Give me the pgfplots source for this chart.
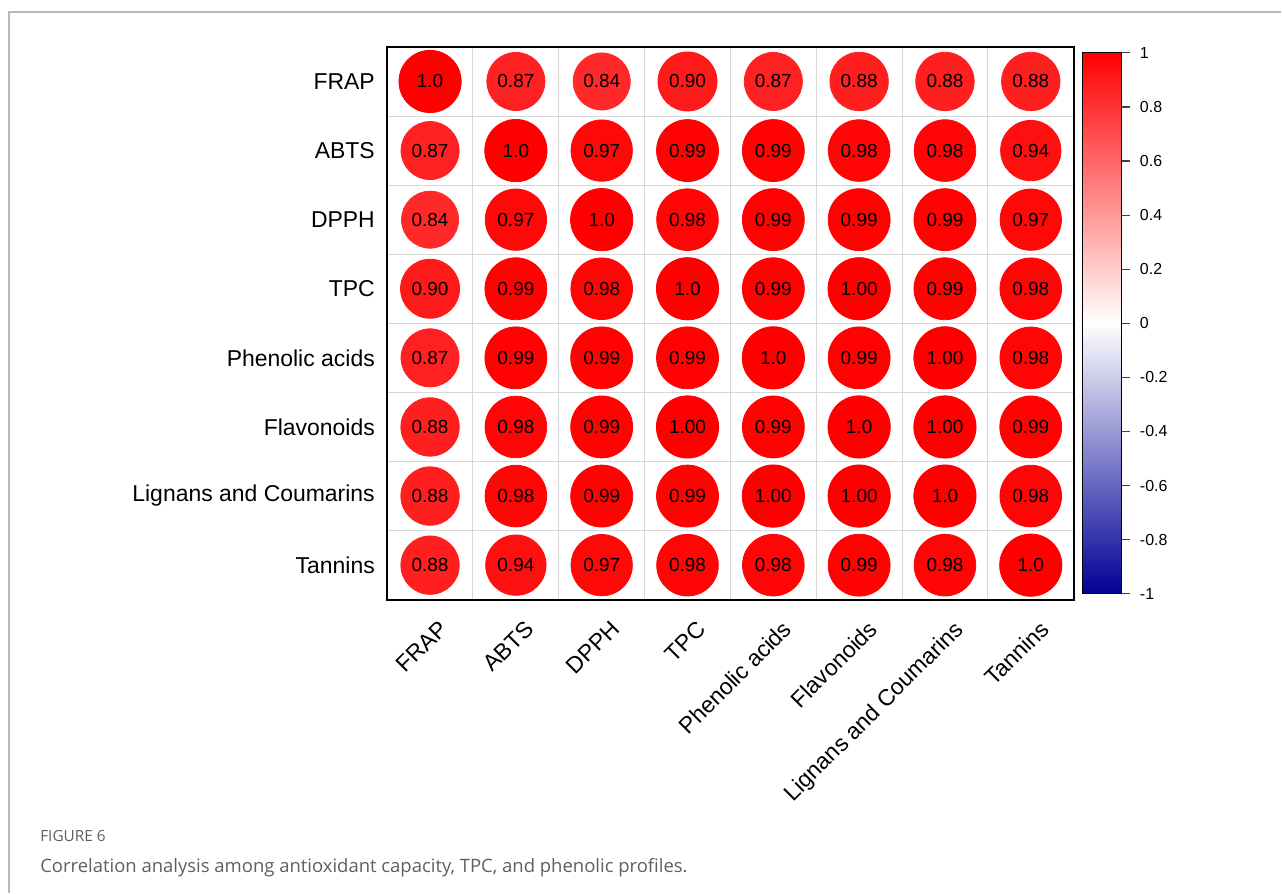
\documentclass[border=0pt]{standalone}
\usepackage{pgfplots}
\pgfplotsset{compat=1.18}
\usepackage{pgfplotstable}
\usepackage{fontspec}
\setmainfont{Liberation Sans}
\newfontfamily\capfont{Open Sans}
\definecolor{framegray}{RGB}{185,185,185}
\definecolor{gridgray}{RGB}{215,215,215}
\definecolor{captiongray}{RGB}{95,95,95}

% Pearson correlation matrix: column index x, row index y, coefficient r, printed label
\pgfplotstableread{
x y r lab
0 0 1.00 1.0
1 0 0.87 0.87
2 0 0.84 0.84
3 0 0.90 0.90
4 0 0.87 0.87
5 0 0.88 0.88
6 0 0.88 0.88
7 0 0.88 0.88
0 1 0.87 0.87
1 1 1.00 1.0
2 1 0.97 0.97
3 1 0.99 0.99
4 1 0.99 0.99
5 1 0.98 0.98
6 1 0.98 0.98
7 1 0.94 0.94
0 2 0.84 0.84
1 2 0.97 0.97
2 2 1.00 1.0
3 2 0.98 0.98
4 2 0.99 0.99
5 2 0.99 0.99
6 2 0.99 0.99
7 2 0.97 0.97
0 3 0.90 0.90
1 3 0.99 0.99
2 3 0.98 0.98
3 3 1.00 1.0
4 3 0.99 0.99
5 3 1.00 1.00
6 3 0.99 0.99
7 3 0.98 0.98
0 4 0.87 0.87
1 4 0.99 0.99
2 4 0.99 0.99
3 4 0.99 0.99
4 4 1.00 1.0
5 4 0.99 0.99
6 4 1.00 1.00
7 4 0.98 0.98
0 5 0.88 0.88
1 5 0.98 0.98
2 5 0.99 0.99
3 5 1.00 1.00
4 5 0.99 0.99
5 5 1.00 1.0
6 5 1.00 1.00
7 5 0.99 0.99
0 6 0.88 0.88
1 6 0.98 0.98
2 6 0.99 0.99
3 6 0.99 0.99
4 6 1.00 1.00
5 6 1.00 1.00
6 6 1.00 1.0
7 6 0.98 0.98
0 7 0.88 0.88
1 7 0.94 0.94
2 7 0.97 0.97
3 7 0.98 0.98
4 7 0.98 0.98
5 7 0.99 0.99
6 7 0.98 0.98
7 7 1.00 1.0
}\corrdata

\pgfplotsset{
  colormap={corr}{rgb255=(0,0,150) rgb255=(255,255,255) rgb255=(255,0,0)},
}

\begin{document}
\begin{tikzpicture}[x=1pt,y=1pt]
\path (0,0) rectangle (641,446.5);
\draw[framegray, line width=0.75pt] (4.5,-1) -- (4.5,440.5) -- (642,440.5);
\begin{axis}[
  at={(194pt,146pt)}, anchor=south west,
  width=344pt, height=277pt, scale only axis,
  xmin=-0.5, xmax=7.5, ymin=-0.5, ymax=7.5,
  y dir=reverse,
  xtick={0,1,2,3,4,5,6,7}, ytick={0,1,2,3,4,5,6,7},
  xticklabels={FRAP,ABTS,DPPH,TPC,Phenolic acids,Flavonoids,Lignans and Coumarins,Tannins},
  yticklabels={FRAP,ABTS,DPPH,TPC,Phenolic acids,Flavonoids,Lignans and Coumarins,Tannins},
  minor xtick={0.5,1.5,2.5,3.5,4.5,5.5,6.5},
  minor ytick={0.5,1.5,2.5,3.5,4.5,5.5,6.5},
  grid=minor, minor grid style={gridgray, line width=0.5pt},
  major tick length=0pt, minor tick length=0pt,
  axis line style={black, line width=1pt},
  tick label style={font=\fontsize{11.5}{13}\selectfont},
  yticklabel style={anchor=east, inner sep=0pt, xshift=-6pt},
  xticklabel style={anchor=north east, inner sep=0pt, xshift=4pt, yshift=-9.5pt, rotate=45},
  colormap name=corr,
  point meta min=-1, point meta max=1,
]
% circles: colour from r, area proportional to |r|
\addplot[scatter, only marks, mark=*, point meta=explicit,
  scatter/use mapped color={draw=mapped color, fill=mapped color},
  scatter/@pre marker code/.append code={%
    \pgfmathsetmacro\circrad{15.6*sqrt(abs(\pgfplotspointmetatransformed/500-1))}%
    \tikzset{mark size=\circrad pt}},
] table[x=x, y=y, meta=r] {\corrdata};
% printed coefficients
\addplot[only marks, mark=none, point meta=explicit symbolic,
  nodes near coords, nodes near coords align={center},
  nodes near coords style={anchor=center, text=black, inner sep=0pt, font=\fontsize{9.5}{10}\selectfont},
] table[x=x, y=y, meta=lab] {\corrdata};
\end{axis}

% colour key
\begin{axis}[
  at={(542.5pt,149pt)}, anchor=south west,
  width=19.5pt, height=271pt, scale only axis,
  xmin=0, xmax=1, ymin=-1, ymax=1, enlargelimits=false,
  axis on top,
  xtick=\empty,
  ytick={-1,-0.8,-0.6,-0.4,-0.2,0,0.2,0.4,0.6,0.8,1},
  yticklabels={-1,-0.8,-0.6,-0.4,-0.2,0,0.2,0.4,0.6,0.8,1},
  ytick pos=right, yticklabel pos=right,
  tick align=outside, major tick length=4pt,
  tick style={black!75, line width=0.6pt},
  yticklabel style={font=\fontsize{8}{9}\selectfont, inner sep=0pt, xshift=5pt},
  axis line style={black, line width=0.5pt},
  colormap name=corr,
  point meta min=-1, point meta max=1,
]
\addplot[surf, shader=interp, mesh/rows=3, mesh/cols=2, point meta=y]
  coordinates {(0,-1) (1,-1) (0,0) (1,0) (0,1) (1,1)};
\end{axis}

\node[anchor=base west, inner sep=0pt, text=captiongray, font=\capfont\fontsize{7.7}{9}\selectfont] at (20,25) {FIGURE 6};
\node[anchor=base west, inner sep=0pt, text=captiongray, font=\capfont\fontsize{9.25}{11}\selectfont] at (20,9.5) {Correlation analysis among antioxidant capacity, TPC, and phenolic profiles.};
\end{tikzpicture}
\end{document}
